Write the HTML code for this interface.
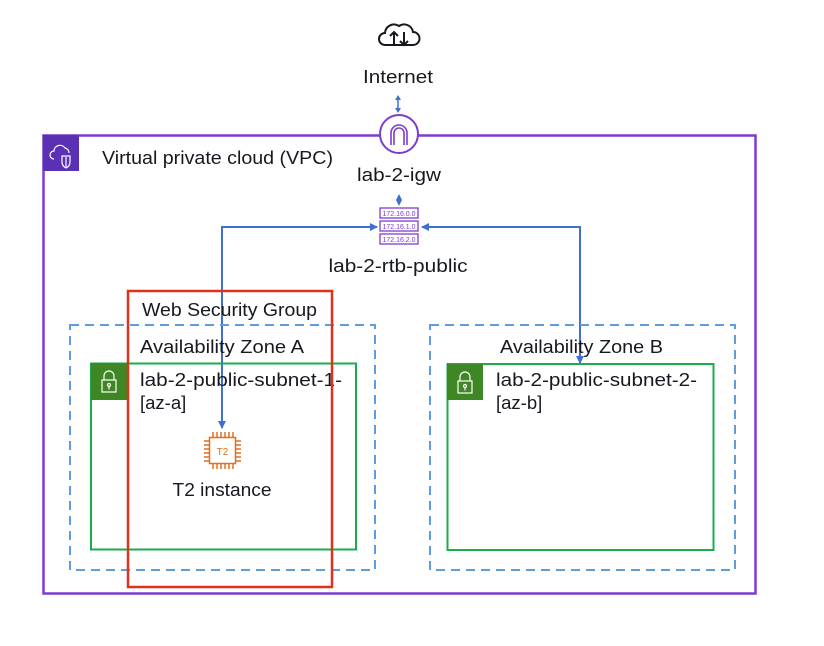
<!DOCTYPE html>
<html><head><meta charset="utf-8"><style>
html,body{margin:0;padding:0;background:#fff;}
svg{display:block;}
text{font-family:"Liberation Sans","DejaVu Sans",sans-serif;font-size:18.5px;fill:#16191f;}
</style></head><body>
<svg width="824" height="646" viewBox="0 0 824 646" xmlns="http://www.w3.org/2000/svg">
<defs>
<marker id="ah" markerWidth="8" markerHeight="8" refX="7" refY="4" orient="auto" markerUnits="userSpaceOnUse">
<path d="M0,0 L8,4 L0,8 Z" fill="#3f6fd1"/></marker>
</defs>
<g fill="none" stroke="#16191f" stroke-width="2">
<path d="M385,45 a6,6 0 0 1 0,-12 a9,9 0 0 1 14,-7 a9,9 0 0 1 14,6 a6.5,6.5 0 0 1 0,13 Z"/>
<path d="M394,45 v-13 M390,36 l4,-4 4,4"/>
<path d="M404,32 v13 M400,41 l4,4 4,-4"/>
</g>
<text x="398" y="83" text-anchor="middle" textLength="70" lengthAdjust="spacingAndGlyphs">Internet</text>
<line x1="398" y1="99" x2="398" y2="109" stroke="#3f6fd1" stroke-width="1.5"/>
<path d="M395,100 L398,95 L401,100 Z M395,108 L398,113 L401,108 Z" fill="#3f6fd1"/>
<rect x="43.5" y="135.5" width="712" height="458" fill="none" stroke="#7d3cd0" stroke-width="2.5"/>
<rect x="43" y="135" width="36" height="36" fill="#5a30b5"/>
<g fill="none" stroke="#fff" stroke-width="1.2">
<path d="M54,159 a4,4 0 0 1 0,-8 a6,6 0 0 1 11,-3 a5,5 0 0 1 4,5"/>
<path d="M62,156 h8 v6 q0,4 -4,6 q-4,-2 -4,-6 Z"/>
<path d="M66,157 v10"/>
</g>
<text x="102" y="164" textLength="231" lengthAdjust="spacingAndGlyphs">Virtual private cloud (VPC)</text>
<circle cx="399" cy="134" r="19" fill="#fff" stroke="#7d3cd0" stroke-width="2"/>
<path d="M391,145 v-12 a8,8 0 0 1 16,0 v12 M394,145 v-12 a5,5 0 0 1 10,0 v12" fill="none" stroke="#7d3cd0" stroke-width="1.6"/>
<text x="399" y="181" text-anchor="middle" textLength="84" lengthAdjust="spacingAndGlyphs">lab-2-igw</text>
<path d="M399,194 L402,200 L399,206 L396,200 Z" fill="#3f6fd1"/>
<g fill="none" stroke="#7d3cd0" stroke-width="1.3">
<rect x="380" y="208" width="38" height="10"/>
<rect x="380" y="221" width="38" height="10"/>
<rect x="380" y="234" width="38" height="10"/>
</g>
<text x="399" y="216" text-anchor="middle" style="font-size:7px;fill:#7d3cd0">172.16.0.0</text>
<text x="399" y="229" text-anchor="middle" style="font-size:7px;fill:#7d3cd0">172.16.1.0</text>
<text x="399" y="242" text-anchor="middle" style="font-size:7px;fill:#7d3cd0">172.16.2.0</text>
<text x="398" y="272" text-anchor="middle" textLength="139" lengthAdjust="spacingAndGlyphs">lab-2-rtb-public</text>
<g fill="none" stroke="#3f6fd1" stroke-width="2">
<polyline points="222,427 222,227 377,227" marker-end="url(#ah)"/>
<line x1="222" y1="240" x2="222" y2="428" marker-end="url(#ah)"/>
<polyline points="580,362 580,227 422,227" marker-end="url(#ah)"/>
<line x1="580" y1="240" x2="580" y2="363" marker-end="url(#ah)"/>
</g>
<rect x="70" y="325" width="305" height="245" fill="none" stroke="#5a9de0" stroke-width="2" stroke-dasharray="9,6"/>
<rect x="91" y="363.5" width="265" height="186" fill="none" stroke="#1aae4b" stroke-width="2"/>
<rect x="91" y="363" width="36" height="37" fill="#3f8624"/>
<g fill="none" stroke="#fff" stroke-width="1.2"><rect x="102" y="380" width="14" height="12"/><path d="M104,380 v-4 a5,5 0 0 1 10,0 v4"/><circle cx="109" cy="385" r="1.5"/><path d="M109,386.5 v3"/></g>
<text x="142" y="316" textLength="175" lengthAdjust="spacingAndGlyphs">Web Security Group</text>
<text x="140" y="353" textLength="164" lengthAdjust="spacingAndGlyphs">Availability Zone A</text>
<text x="140" y="386" textLength="202" lengthAdjust="spacingAndGlyphs">lab-2-public-subnet-1-</text>
<text x="140" y="409">[az-a]</text>
<g stroke="#e07020" stroke-width="1.5" fill="none">
<rect x="209.5" y="437.5" width="26" height="26"/>
<path d="M213,437 v-5 M217,437 v-5 M221,437 v-5 M225,437 v-5 M229,437 v-5 M233,437 v-5
M213,464 v5 M217,464 v5 M221,464 v5 M225,464 v5 M229,464 v5 M233,464 v5
M209,441 h-5 M209,445 h-5 M209,449 h-5 M209,453 h-5 M209,457 h-5 M209,461 h-5
M236,441 h5 M236,445 h5 M236,449 h5 M236,453 h5 M236,457 h5 M236,461 h5"/>
</g>
<text x="222.5" y="455" text-anchor="middle" style="font-size:10px;fill:#e07020">T2</text>
<text x="222" y="496" text-anchor="middle" textLength="99" lengthAdjust="spacingAndGlyphs">T2 instance</text>
<rect x="128" y="291" width="204" height="296" fill="none" stroke="#e0301e" stroke-width="2.5"/>
<rect x="430" y="325" width="305" height="245" fill="none" stroke="#5a9de0" stroke-width="2" stroke-dasharray="9,6"/>
<rect x="447.5" y="364" width="266" height="186" fill="none" stroke="#1aae4b" stroke-width="2"/>
<rect x="447" y="364" width="36" height="36" fill="#3f8624"/>
<g fill="none" stroke="#fff" stroke-width="1.2"><rect x="458" y="381" width="14" height="12"/><path d="M460,381 v-4 a5,5 0 0 1 10,0 v4"/><circle cx="465" cy="386" r="1.5"/><path d="M465,387.5 v3"/></g>
<text x="500" y="353" textLength="163" lengthAdjust="spacingAndGlyphs">Availability Zone B</text>
<text x="496" y="386" textLength="201" lengthAdjust="spacingAndGlyphs">lab-2-public-subnet-2-</text>
<text x="496" y="409">[az-b]</text>
</svg>
</body></html>
